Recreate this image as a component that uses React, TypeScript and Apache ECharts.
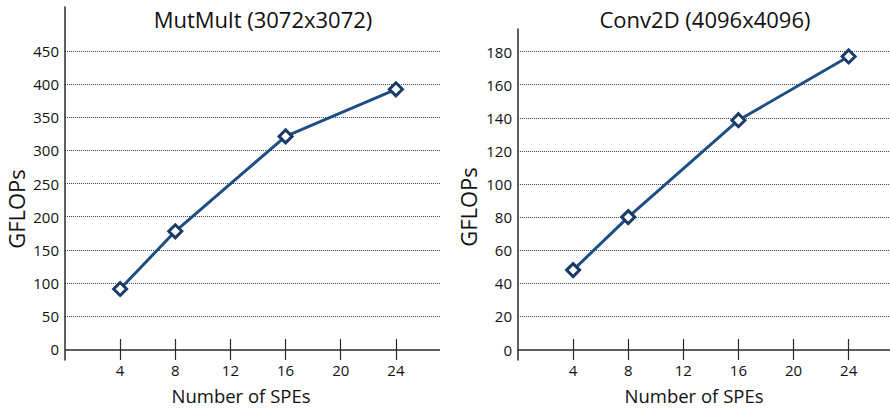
import React, { useEffect, useRef } from "react";
import * as echarts from "echarts";

const xTickValues = [4, 8, 12, 16, 20, 24];
const speCounts = [4, 8, 16, 24];
const mutMultGflops = [91, 178, 321, 392];
const conv2dGflops = [48, 80, 138.5, 177];
const mutMultYTicks = [0, 50, 100, 150, 200, 250, 300, 350, 400, 450];
const conv2dYTicks = [0, 20, 40, 60, 80, 100, 120, 140, 160, 180];
const titles = ["MutMult (3072x3072)", "Conv2D (4096x4096)"];
const xName = "Number of SPEs";
const yName = "GFLOPs";

const FONT = "'Open Sans', 'DejaVu Sans', sans-serif";
const LINE = "#1F4E85";
const MARK = "#1A3B68";
const AXIS = "#2a2a2a";

const grids = [
  { left: 65, top: 7, width: 375, height: 353, xMax: 27.2, yMin: -16, yMax: 516 },
  { left: 518, top: 29, width: 372, height: 331, xMax: 27, yMin: -6.3, yMax: 193.6 },
];

export default function App() {
  const ref = useRef<HTMLDivElement>(null);
  useEffect(() => {
    if (!ref.current) return;
    const chart = echarts.init(ref.current, undefined, { renderer: "svg" });

    // x axis sits at the grid bottom (just below y = 0); its ticks point up across the y = 0 line,
    // which is drawn as a solid line at value 0.
    const mkX = (gridIndex: number) => {
      const g = grids[gridIndex];
      return {
        type: "value",
        gridIndex,
        position: "bottom",
        min: 0,
        max: g.xMax,
        axisLine: { show: false, onZero: false },
        axisTick: {
          show: true,
          inside: true,
          length: 21,
          customValues: xTickValues,
          lineStyle: { color: AXIS, width: 1.2 },
        },
        axisLabel: {
          customValues: xTickValues,
          margin: 2,
          fontFamily: FONT,
          fontSize: 15,
          color: "#111",
        },
        splitLine: { show: false },
      };
    };

    const mkY = (gridIndex: number, ticks: number[]) => ({
      type: "value",
      gridIndex,
      min: grids[gridIndex].yMin,
      max: grids[gridIndex].yMax,
      axisLine: { show: true, onZero: false, lineStyle: { color: AXIS, width: 1.5 } },
      axisTick: { show: false, customValues: ticks.filter((t) => t > 0) },
      axisLabel: {
        customValues: ticks,
        margin: 6,
        fontFamily: FONT,
        fontSize: 15,
        color: "#111",
      },
      splitLine: {
        show: true,
        lineStyle: { color: "#444", width: 1, type: "dotted" },
      },
    });

    const series = (idx: number, ys: number[]) => ({
      type: "line",
      xAxisIndex: idx,
      yAxisIndex: idx,
      data: speCounts.map((x, i) => [x, ys[i]]),
      symbol: "diamond",
      symbolSize: 13,
      lineStyle: { color: LINE, width: 3 },
      itemStyle: { color: "#ffffff", borderColor: MARK, borderWidth: 3 },
      z: 5,
      markLine: {
        silent: true,
        symbol: "none",
        label: { show: false },
        lineStyle: { color: AXIS, width: 1.5, type: "solid" },
        data: [{ yAxis: 0 }],
        z: 1,
      },
    });

    const text = (
      t: string,
      x: number,
      y: number,
      size: number,
      rotation = 0
    ) => ({
      type: "text",
      x,
      y,
      rotation,
      style: {
        text: t,
        fontFamily: FONT,
        fontSize: size,
        fill: "#111",
        textAlign: "center",
        textVerticalAlign: "middle",
      },
    });

    chart.setOption({
      animation: false,
      backgroundColor: "#ffffff",
      grid: grids.map((g) => ({ left: g.left, top: g.top, width: g.width, height: g.height })),
      xAxis: [mkX(0), mkX(1)],
      yAxis: [mkY(0, mutMultYTicks), mkY(1, conv2dYTicks)],
      series: [series(0, mutMultGflops), series(1, conv2dGflops)],
      graphic: [
        text(titles[0], 263, 19, 22),
        text(titles[1], 705, 19, 22),
        text(yName, 16, 209, 22, Math.PI / 2),
        text(yName, 468, 207, 22, Math.PI / 2),
        text(xName, 241, 395, 18.5),
        text(xName, 694, 395, 18.5),
      ],
    });
    return () => chart.dispose();
  }, []);
  return (
    <div
      ref={ref}
      style={{ position: "fixed", left: 0, top: 0, width: 890, height: 408 }}
    />
  );
}
